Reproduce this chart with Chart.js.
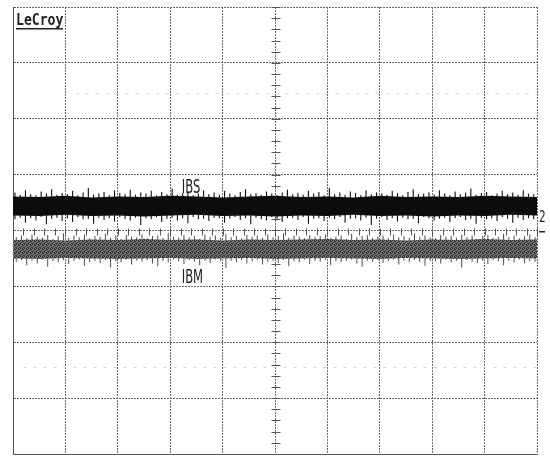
<!DOCTYPE html>
<html>
<head>
<meta charset="utf-8">
<script src="https://cdn.jsdelivr.net/npm/chart.js@4.4.1/dist/chart.umd.min.js"></script>
<style>
  body { margin: 0; background: #fff; }
  canvas { display: block; }
</style>
</head>
<body>
<canvas id="scope" width="550" height="457"></canvas>
<script>
// screen is 10 x 8 divisions, values in divisions from centre line
const columns = Array.from({ length: 100 }, (_, i) => i);

// core of each trace, sampled every half division
const coreTimes = [0, 0.5, 1, 1.5, 2, 2.5, 3, 3.5, 4, 4.5, 5, 5.5, 6, 6.5, 7, 7.5, 8, 8.5, 9, 9.5, 10];
const ibsCoreTop = [0.61, 0.60, 0.62, 0.59, 0.61, 0.60, 0.62, 0.61, 0.59, 0.61, 0.62, 0.60, 0.61, 0.59, 0.62, 0.60, 0.61, 0.60, 0.62, 0.61, 0.60];
const ibsCoreBot = [0.27, 0.26, 0.28, 0.26, 0.27, 0.25, 0.27, 0.28, 0.26, 0.27, 0.25, 0.27, 0.26, 0.28, 0.26, 0.27, 0.25, 0.27, 0.26, 0.28, 0.27];
const ibmCoreTop = [-0.17, -0.16, -0.18, -0.16, -0.17, -0.15, -0.17, -0.16, -0.18, -0.16, -0.17, -0.16, -0.15, -0.17, -0.16, -0.18, -0.16, -0.17, -0.15, -0.17, -0.16];
const ibmCoreBot = [-0.50, -0.51, -0.49, -0.50, -0.51, -0.50, -0.49, -0.51, -0.50, -0.49, -0.51, -0.50, -0.49, -0.50, -0.51, -0.49, -0.50, -0.51, -0.50, -0.49, -0.50];

// noise peaks, one per 0.1 division
const ibsHi = [0.68,0.64,0.72,0.65,0.63,0.70,0.66,0.74,0.64,0.67,0.65,0.71,0.63,0.68,0.76,0.64,0.66,0.69,0.63,0.72,
  0.67,0.65,0.73,0.64,0.68,0.66,0.71,0.63,0.69,0.65,0.75,0.64,0.67,0.70,0.63,0.66,0.72,0.65,0.68,0.64,
  0.71,0.66,0.63,0.69,0.74,0.65,0.67,0.64,0.70,0.66,0.63,0.68,0.73,0.65,0.67,0.64,0.71,0.66,0.69,0.63,
  0.76,0.65,0.68,0.64,0.70,0.67,0.63,0.72,0.65,0.68,0.66,0.64,0.71,0.67,0.63,0.69,0.74,0.65,0.66,0.68,
  0.64,0.72,0.66,0.63,0.70,0.65,0.68,0.75,0.64,0.67,0.69,0.63,0.66,0.71,0.65,0.68,0.64,0.72,0.66,0.65];
const ibsLo = [0.20,0.23,0.14,0.22,0.18,0.24,0.11,0.21,0.23,0.17,0.22,0.15,0.24,0.20,0.21,0.12,0.23,0.19,0.22,0.16,
  0.24,0.21,0.18,0.23,0.10,0.22,0.20,0.24,0.15,0.21,0.23,0.18,0.22,0.13,0.24,0.20,0.21,0.17,0.23,0.22,
  0.14,0.21,0.24,0.19,0.22,0.11,0.23,0.20,0.18,0.24,0.21,0.15,0.22,0.23,0.19,0.24,0.12,0.21,0.22,0.17,
  0.23,0.20,0.24,0.14,0.21,0.22,0.18,0.23,0.10,0.21,0.24,0.19,0.22,0.16,0.23,0.20,0.21,0.13,0.24,0.22,
  0.18,0.21,0.23,0.15,0.22,0.24,0.19,0.21,0.12,0.23,0.20,0.22,0.17,0.24,0.21,0.14,0.23,0.19,0.22,0.20];
const ibmHi = [-0.12,-0.09,-0.14,-0.07,-0.11,-0.13,-0.08,-0.15,-0.10,-0.05,-0.13,-0.09,-0.12,-0.07,-0.14,-0.10,-0.11,-0.06,-0.13,-0.09,
  -0.15,-0.08,-0.11,-0.12,-0.07,-0.14,-0.10,-0.09,-0.13,-0.04,-0.11,-0.13,-0.08,-0.12,-0.10,-0.15,-0.07,-0.11,-0.09,-0.13,
  -0.06,-0.12,-0.10,-0.14,-0.08,-0.11,-0.09,-0.13,-0.07,-0.12,-0.10,-0.05,-0.13,-0.09,-0.11,-0.14,-0.08,-0.12,-0.10,-0.07,
  -0.13,-0.11,-0.09,-0.15,-0.06,-0.12,-0.10,-0.08,-0.13,-0.11,-0.09,-0.14,-0.07,-0.12,-0.10,-0.13,-0.05,-0.11,-0.09,-0.12,
  -0.14,-0.08,-0.11,-0.10,-0.13,-0.07,-0.12,-0.09,-0.15,-0.10,-0.08,-0.13,-0.11,-0.06,-0.12,-0.09,-0.14,-0.10,-0.07,-0.12];
const ibmLo = [-0.56,-0.53,-0.62,-0.54,-0.59,-0.52,-0.65,-0.55,-0.57,-0.53,-0.60,-0.54,-0.52,-0.63,-0.56,-0.54,-0.58,-0.53,-0.66,-0.55,
  -0.57,-0.52,-0.61,-0.54,-0.56,-0.53,-0.59,-0.64,-0.54,-0.57,-0.52,-0.55,-0.60,-0.53,-0.56,-0.62,-0.54,-0.58,-0.52,-0.55,
  -0.67,-0.54,-0.57,-0.53,-0.59,-0.55,-0.52,-0.61,-0.56,-0.54,-0.58,-0.53,-0.64,-0.55,-0.57,-0.52,-0.60,-0.54,-0.56,-0.53,
  -0.62,-0.55,-0.57,-0.54,-0.52,-0.59,-0.65,-0.54,-0.56,-0.53,-0.58,-0.55,-0.52,-0.61,-0.54,-0.57,-0.53,-0.56,-0.63,-0.54,
  -0.55,-0.59,-0.52,-0.57,-0.54,-0.66,-0.53,-0.56,-0.58,-0.54,-0.60,-0.53,-0.55,-0.62,-0.54,-0.57,-0.52,-0.59,-0.55,-0.56];

// trace labels: [text, time div, level div]
const traceLabels = [['IBS', 3.22, 0.67], ['IBM', 3.22, -0.94]];

// halftone look for the grey channel
function halftone() {
  const c = document.createElement('canvas');
  c.width = 4; c.height = 4;
  const g = c.getContext('2d');
  g.fillStyle = '#7a7a7a';
  g.fillRect(0, 0, 4, 4);
  g.fillStyle = '#2e2e2e';
  g.fillRect(0, 0, 1, 1); g.fillRect(2, 1, 1, 1); g.fillRect(1, 2, 1, 1); g.fillRect(3, 3, 1, 1);
  g.fillRect(2, 0, 1, 1); g.fillRect(0, 3, 1, 1); g.fillRect(3, 1, 1, 1);
  return g.createPattern(c, 'repeat');
}
const greyFill = halftone();

const pts = (xs, ys) => ys.map((y, i) => ({ x: xs[i], y: y }));

const scopeDecor = {
  id: 'scopeDecor',
  beforeDatasetsDraw(chart) {
    const { ctx } = chart;
    const xs = chart.scales.xg, ys = chart.scales.y;
    const cx = Math.round(xs.getPixelForValue(5)) + 0.5, cy = Math.round(ys.getPixelForValue(0)) + 0.5;
    ctx.save();
    // faint cursor marks
    ctx.strokeStyle = '#d2d2d2';
    ctx.lineWidth = 1;
    ctx.setLineDash([3, 7]);
    ctx.beginPath();
    ctx.moveTo(xs.getPixelForValue(1.2), ys.getPixelForValue(2.45));
    ctx.lineTo(xs.getPixelForValue(10), ys.getPixelForValue(2.45));
    ctx.moveTo(xs.getPixelForValue(0.2), ys.getPixelForValue(-2.45));
    ctx.lineTo(xs.getPixelForValue(10), ys.getPixelForValue(-2.45));
    ctx.stroke();
    ctx.setLineDash([]);
    // minor ticks on the centre axes
    ctx.strokeStyle = '#555';
    ctx.beginPath();
    for (let v = -4; v <= 4.001; v += 0.2) {
      const y = Math.round(ys.getPixelForValue(v)) + 0.5;
      ctx.moveTo(cx - 4, y); ctx.lineTo(cx + 5, y);
    }
    for (let t = 0; t <= 10.001; t += 0.2) {
      const x = Math.round(xs.getPixelForValue(t)) + 0.5;
      ctx.moveTo(x, cy - 3); ctx.lineTo(x, cy + 4);
    }
    ctx.stroke();
    ctx.restore();
  },
  afterDraw(chart) {
    const { ctx } = chart;
    const xs = chart.scales.xg, ys = chart.scales.y;
    ctx.save();
    ctx.fillStyle = '#222';
    ctx.textBaseline = 'alphabetic';
    // LeCroy logo
    ctx.save();
    ctx.translate(16, 25);
    ctx.scale(0.82, 1);
    ctx.font = 'bold 16px "DejaVu Sans Mono"';
    ctx.fillText('LeCroy', 0, 0);
    ctx.restore();
    ctx.fillRect(16, 28, 47, 1.5);
    // trace labels
    traceLabels.forEach(([txt, t, v]) => {
      ctx.save();
      ctx.translate(xs.getPixelForValue(t), ys.getPixelForValue(v));
      ctx.scale(0.58, 1);
      ctx.font = '20px "DejaVu Sans"';
      ctx.fillText(txt, 0, 0);
      ctx.restore();
    });
    // channel marker
    ctx.font = '15px "DejaVu Sans"';
    ctx.save();
    ctx.translate(539, ys.getPixelForValue(0.15));
    ctx.scale(0.7, 1);
    ctx.fillText('2', 0, 0);
    ctx.restore();
    ctx.fillRect(539, Math.round(ys.getPixelForValue(0)), 6, 1.5);
    ctx.restore();
  }
};

new Chart(document.getElementById('scope'), {
  type: 'bar',
  data: {
    labels: columns,
    datasets: [
      { type: 'line', data: pts(coreTimes, ibsCoreTop), xAxisID: 'xg', fill: '+1', backgroundColor: '#0c0c0c', borderWidth: 0, pointRadius: 0, tension: 0 },
      { type: 'line', data: pts(coreTimes, ibsCoreBot), xAxisID: 'xg', fill: false, borderWidth: 0, pointRadius: 0 },
      { type: 'line', data: pts(coreTimes, ibmCoreTop), xAxisID: 'xg', fill: '+1', backgroundColor: greyFill, borderWidth: 0, pointRadius: 0, tension: 0 },
      { type: 'line', data: pts(coreTimes, ibmCoreBot), xAxisID: 'xg', fill: false, borderWidth: 0, pointRadius: 0 },
      { data: ibsHi.map((h, i) => [ibsLo[i], h]), xAxisID: 'x', backgroundColor: '#111', barPercentage: 0.85, categoryPercentage: 1, borderWidth: 0 },
      { data: ibmHi.map((h, i) => [ibmLo[i], h]), xAxisID: 'x', backgroundColor: '#4a4a4a', barPercentage: 0.75, categoryPercentage: 1, borderWidth: 0 }
    ]
  },
  options: {
    responsive: false,
    animation: false,
    layout: { padding: { left: 13, right: 13, top: 7, bottom: 3 } },
    plugins: { legend: { display: false }, tooltip: { enabled: false } },
    scales: {
      x: { display: false },
      xg: {
        type: 'linear', position: 'bottom', min: 0, max: 10, offset: false,
        ticks: { display: false, stepSize: 1 },
        grid: { color: '#666', lineWidth: 1, drawTicks: false, offset: false },
        border: { display: true, color: '#555', width: 1, dash: [2, 1] }
      },
      y: {
        min: -4, max: 4,
        ticks: { display: false, stepSize: 1 },
        grid: { color: '#666', lineWidth: 1, drawTicks: false },
        border: { display: true, color: '#555', width: 1, dash: [2, 1] }
      }
    }
  },
  plugins: [scopeDecor]
});
</script>
</body>
</html>
